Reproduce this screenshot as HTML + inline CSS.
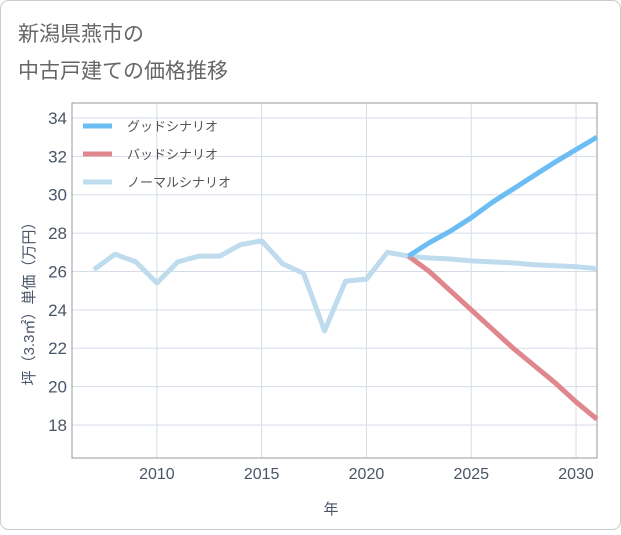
<!DOCTYPE html>
<html><head><meta charset="utf-8"><style>
body{margin:0;background:#fff}
svg{font-family:"Liberation Sans","Noto Sans CJK JP",sans-serif}
</style></head><body>
<svg width="621" height="530">
<rect x="0.5" y="0.5" width="620" height="529" rx="8" fill="#fff" stroke="#ccc"/>
<text x="18" y="41" font-size="21" fill="#666">新潟県燕市の</text>
<text x="18" y="78" font-size="21" fill="#666">中古戸建ての価格推移</text>
<g id="plot"></g>
<text x="331" y="514" font-size="15" fill="#4a5568" text-anchor="middle">年</text>
<text transform="translate(34,300) rotate(-90)" font-size="15" fill="#4a5568" text-anchor="middle">坪（3.3㎡）単価（万円）</text>
</svg>
<script>
const years=[2007,2008,2009,2010,2011,2012,2013,2014,2015,2016,2017,2018,2019,2020,2021,2022,2023,2024,2025,2026,2027,2028,2029,2030,2031];
const normal=[26.1,26.9,26.5,25.4,26.5,26.8,26.8,27.4,27.6,26.4,25.9,22.9,25.5,25.6,27.0,26.8,26.7,26.65,26.55,26.5,26.45,26.35,26.3,26.25,26.15];
const futureYears=[2022,2023,2024,2025,2026,2027,2028,2029,2030,2031];
const good=[26.8,27.5,28.1,28.8,29.6,30.3,31.0,31.7,32.35,33.0];
const bad=[26.8,26.0,25.0,24.0,23.0,22.0,21.1,20.2,19.2,18.3];
const xTicks=[2010,2015,2020,2025,2030];
const yTicks=[18,20,22,24,26,28,30,32,34];
const L=72,R=597,T=103,B=458,x0=2005.95,x1=2031,y0=16.28,y1=34.78;
const X=v=>L+(v-x0)/(x1-x0)*(R-L), Y=v=>B-(v-y0)/(y1-y0)*(B-T);
const ns="http://www.w3.org/2000/svg",g=document.getElementById('plot');
function mk(t,a){const e=document.createElementNS(ns,t);for(const k in a)e.setAttribute(k,a[k]);g.appendChild(e);return e;}
xTicks.forEach(t=>{const l=mk('line',{x1:X(t),x2:X(t),y1:T,y2:B,stroke:'#d5dde8'});
const s=mk('text',{x:X(t),y:B+21,'font-size':16,fill:'#4a5568','text-anchor':'middle'});s.textContent=t;});
yTicks.forEach(t=>{const l=mk('line',{x1:L,x2:R,y1:Y(t),y2:Y(t),stroke:'#d5dde8'});
const s=mk('text',{x:L-5,y:Y(t)+6,'font-size':17,fill:'#4a5568','text-anchor':'end'});s.textContent=t;});
const bx=mk('rect',{x:L,y:T,width:R-L,height:B-T,fill:'none',stroke:'#999'});
function line(xs,ys,c,n){const p=mk('polyline',{points:xs.map((v,i)=>X(v)+','+Y(ys[i])).join(' '),fill:'none',stroke:c,'stroke-width':5,'stroke-linejoin':'round'});}
line(years,normal,'#bfdcee','normal-line');
line(futureYears,bad,'#e0868d','bad-line');
line(futureYears,good,'#6cbdf3','good-line');
const leg=[['グッドシナリオ','#6cbdf3'],['バッドシナリオ','#e0868d'],['ノーマルシナリオ','#bfdcee']];
leg.forEach((d,i)=>{const y=126+i*28;const l=mk('line',{x1:83,x2:112,y1:y,y2:y,stroke:d[1],'stroke-width':5});
const s=mk('text',{x:127,y:y+5,'font-size':13,fill:'#555'});s.textContent=d[0];});
</script>
</body></html>
